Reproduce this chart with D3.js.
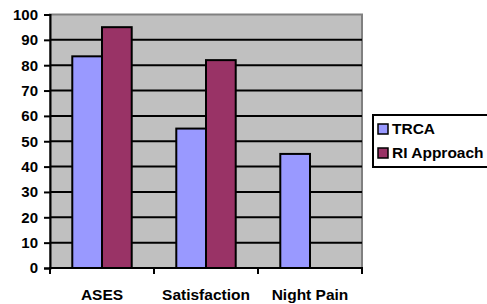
<!DOCTYPE html>
<html>
<head>
<meta charset="utf-8">
<script src="https://cdn.jsdelivr.net/npm/d3@7"></script>
<style>
  body { margin: 0; background: #fff; }
  svg text { font-family: "Liberation Sans", Arial, sans-serif; font-weight: 700; fill: #000; }
</style>
</head>
<body>
<div id="chart"></div>
<script>
const categories = ["ASES", "Satisfaction", "Night Pain"];
const seriesNames = ["TRCA", "RI Approach"];
const trcaValues = [83.5, 55, 45];
const riValues = [95, 82, null];
const yTicks = [0, 10, 20, 30, 40, 50, 60, 70, 80, 90, 100];
const colors = ["#9999ff", "#993366"];

const width = 487, height = 304;
const plot = { left: 50, right: 362, top: 14.5, bottom: 268 };

const svg = d3.select("#chart").append("svg")
    .attr("width", width)
    .attr("height", height);

const x = d3.scaleBand()
    .domain(categories)
    .range([plot.left, plot.right])
    .paddingInner(0)
    .paddingOuter(0);

const bandW = x.bandwidth();
const barW = bandW / 3.5;

const y = d3.scaleLinear()
    .domain([0, 100])
    .range([plot.bottom, plot.top]);

// plot area
svg.append("rect")
    .attr("x", plot.left)
    .attr("y", plot.top)
    .attr("width", plot.right - plot.left)
    .attr("height", plot.bottom - plot.top)
    .attr("fill", "#c0c0c0")
    .attr("stroke", "#808080")
    .attr("stroke-width", 2);

// gridlines
svg.selectAll(".grid")
    .data(yTicks.filter(d => d > 0 && d < 100))
    .enter().append("line")
    .attr("x1", plot.left)
    .attr("x2", plot.right)
    .attr("y1", d => y(d))
    .attr("y2", d => y(d))
    .attr("stroke", "#000")
    .attr("stroke-width", 2);

// bars
const series = [trcaValues, riValues];
series.forEach((vals, si) => {
    svg.selectAll(".bar" + si)
        .data(categories.map((c, i) => ({ c, v: vals[i] })).filter(d => d.v != null))
        .enter().append("rect")
        .attr("x", d => x(d.c) + (bandW - 2 * barW) / 2 + si * barW)
        .attr("y", d => y(d.v))
        .attr("width", barW)
        .attr("height", d => y(0) - y(d.v))
        .attr("fill", colors[si])
        .attr("stroke", "#000")
        .attr("stroke-width", 2);
});

// y axis
const yAxis = svg.append("g")
    .attr("transform", `translate(${plot.left},0)`)
    .call(d3.axisLeft(y).tickValues(yTicks).tickSize(6).tickPadding(6));
yAxis.attr("font-family", null).attr("font-size", null);
yAxis.select(".domain").attr("stroke", "#000").attr("stroke-width", 2);
yAxis.selectAll(".tick line").attr("stroke", "#000").attr("stroke-width", 2);
yAxis.selectAll(".tick text")
    .style("font-size", "15px");

// x axis
const xAxis = svg.append("g")
    .attr("transform", `translate(0,${plot.bottom})`);
xAxis.append("line")
    .attr("x1", plot.left - 1)
    .attr("x2", plot.right + 1)
    .attr("y1", 0).attr("y2", 0)
    .attr("stroke", "#000").attr("stroke-width", 2);
const bounds = categories.map(c => x(c)).concat([plot.right]);
xAxis.selectAll(".xt")
    .data(bounds)
    .enter().append("line")
    .attr("x1", d => d).attr("x2", d => d)
    .attr("y1", 0).attr("y2", 6)
    .attr("stroke", "#000").attr("stroke-width", 2);
xAxis.selectAll(".xl")
    .data(categories)
    .enter().append("text")
    .attr("x", d => x(d) + bandW / 2)
    .attr("y", 32)
    .attr("text-anchor", "middle")
    .style("font-size", "15.5px")
    .text(d => d);

// legend
const legend = svg.append("g").attr("transform", "translate(373,115)");
legend.append("rect")
    .attr("x", 0).attr("y", 0)
    .attr("width", 130).attr("height", 52)
    .attr("fill", "#fff")
    .attr("stroke", "#000")
    .attr("stroke-width", 2);
seriesNames.forEach((name, i) => {
    const g = legend.append("g").attr("transform", `translate(5,${14 + i * 24})`);
    g.append("rect")
        .attr("x", 0).attr("y", -5)
        .attr("width", 10).attr("height", 10)
        .attr("fill", colors[i])
        .attr("stroke", "#000")
        .attr("stroke-width", 1.5);
    g.append("text")
        .attr("x", 14)
        .attr("y", 0)
        .attr("dy", "0.35em")
        .style("font-size", "15.5px")
        .text(name);
});
</script>
</body>
</html>
